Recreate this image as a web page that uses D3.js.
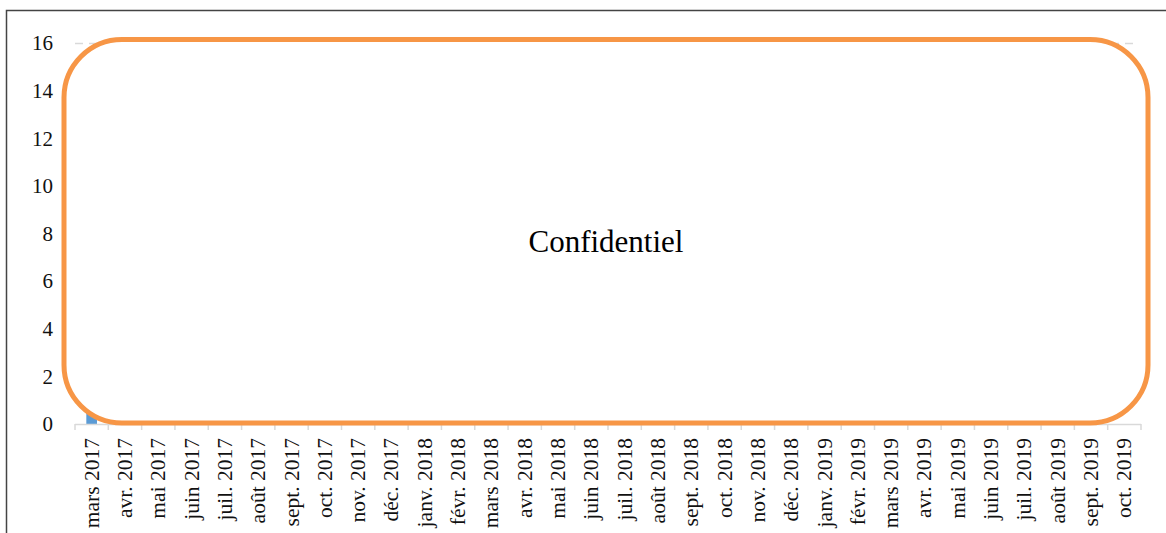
<!DOCTYPE html>
<html>
<head>
<meta charset="utf-8">
<script src="https://cdn.jsdelivr.net/npm/d3@7"></script>
<style>
  body { margin: 0; background: #fff; }
  svg { display: block; }
</style>
</head>
<body>
<div id="chart"></div>
<script>
// months on the x axis
const months = ["mars 2017","avr. 2017","mai 2017","juin 2017","juil. 2017","août 2017",
  "sept. 2017","oct. 2017","nov. 2017","déc. 2017","janv. 2018","févr. 2018","mars 2018",
  "avr. 2018","mai 2018","juin 2018","juil. 2018","août 2018","sept. 2018","oct. 2018",
  "nov. 2018","déc. 2018","janv. 2019","févr. 2019","mars 2019","avr. 2019","mai 2019",
  "juin 2019","juil. 2019","août 2019","sept. 2019","oct. 2019"];

// values (hidden behind the mask, only the first bar peeks out)
const counts = [1,0,0,0,0,0,0,0,0,0,0,0,0,0,0,0,0,0,0,0,0,0,0,0,0,0,0,0,0,0,0,0];

const yTicks = [0,2,4,6,8,10,12,14,16];
const maskText = "Confidentiel";

const W = 1166, H = 533;
const margin = {top: 43, right: 25, bottom: 109, left: 75};
const serif = "Liberation Serif, Times New Roman, serif";

const svg = d3.select("#chart").append("svg")
  .attr("width", W).attr("height", H);

// outer frame
svg.append("path")
  .attr("d", "M6.5," + (H + 5) + "V10.5H" + (W + 5))
  .attr("fill", "none")
  .attr("stroke", "#444")
  .attr("stroke-width", 1.5);

const x = d3.scaleBand()
  .domain(months)
  .range([margin.left, W - margin.right])
  .paddingInner(0.68)
  .paddingOuter(0.34);

const y = d3.scaleLinear()
  .domain([0, 16])
  .range([H - margin.bottom, margin.top]);

// gridlines
svg.append("g")
  .selectAll("line")
  .data(yTicks.filter(d => d > 0))
  .enter()
  .append("line")
    .attr("x1", margin.left)
    .attr("x2", W - margin.right - 3)
    .attr("y1", d => y(d) + 0.5)
    .attr("y2", d => y(d) + 0.5)
    .attr("stroke", "#d9d9d9")
    .attr("stroke-width", 1.5)
    .attr("stroke-dasharray", "8,6");

// bars
svg.append("g")
  .selectAll("rect")
  .data(months)
  .enter()
  .append("rect")
    .attr("x", d => x(d))
    .attr("y", (d, i) => y(counts[i]))
    .attr("width", x.bandwidth())
    .attr("height", (d, i) => y(0) - y(counts[i]))
    .attr("fill", "#5b9bd5");

// y labels
svg.append("g")
  .selectAll("text")
  .data(yTicks)
  .enter()
  .append("text")
    .attr("x", 53)
    .attr("y", d => y(d))
    .attr("dy", "0.35em")
    .attr("text-anchor", "end")
    .attr("font-family", serif)
    .attr("font-size", 21)
    .attr("fill", "#111")
    .text(d => d);

// x axis line and tick marks between categories
const x0 = margin.left, x1 = W - margin.right;
svg.append("line")
  .attr("x1", x0).attr("x2", x1)
  .attr("y1", y(0) + 0.5).attr("y2", y(0) + 0.5)
  .attr("stroke", "#d9d9d9").attr("stroke-width", 1.5);

svg.append("g")
  .selectAll("line")
  .data(d3.range(months.length + 1))
  .enter()
  .append("line")
    .attr("x1", i => x0 + i * (x1 - x0) / months.length)
    .attr("x2", i => x0 + i * (x1 - x0) / months.length)
    .attr("y1", y(0)).attr("y2", y(0) + 6)
    .attr("stroke", "#d9d9d9").attr("stroke-width", 1.5);

// x labels, rotated
svg.append("g")
  .selectAll("text")
  .data(months)
  .enter()
  .append("text")
    .attr("transform", d => "translate(" + (x(d) + x.bandwidth() / 2 + 7) + "," + (y(0) + 14) + ") rotate(-90)")
    .attr("text-anchor", "end")
    .attr("font-family", serif)
    .attr("font-size", 21.5)
    .attr("fill", "#111")
    .text(d => d);

// confidential mask
const boxL = x0 - 11, boxR = x1 + 7;
const boxT = y(16) - 3.5, boxB = y(0) - 1;
svg.append("rect")
  .attr("x", boxL).attr("y", boxT)
  .attr("width", boxR - boxL).attr("height", boxB - boxT)
  .attr("rx", 58).attr("ry", 58)
  .attr("fill", "#fff")
  .attr("stroke", "#f79646")
  .attr("stroke-width", 5);

svg.append("text")
  .attr("x", 606)
  .attr("y", 252)
  .attr("text-anchor", "middle")
  .attr("font-family", serif)
  .attr("font-size", 31)
  .attr("fill", "#000")
  .text(maskText);
</script>
</body>
</html>
